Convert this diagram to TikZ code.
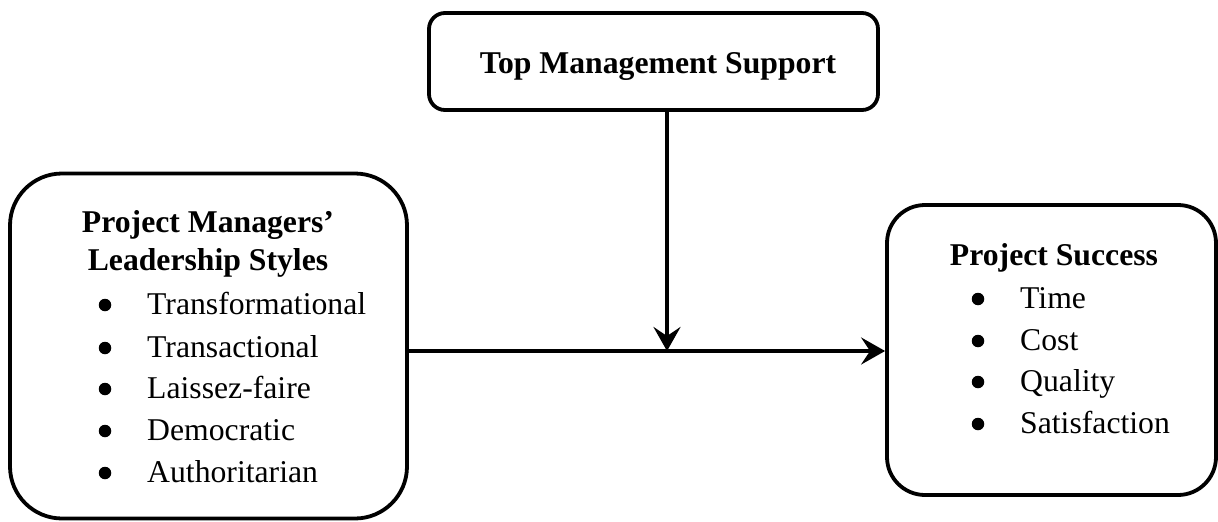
\documentclass[tikz,border=0pt]{standalone}
\usepackage{fontspec}
\setmainfont{Liberation Serif}
\usetikzlibrary{arrows.meta}
\tikzset{
  box/.style={draw, line width=3.8pt, inner sep=0pt},
  txt/.style={inner sep=0pt, anchor=base west, font=\fontsize{31.7}{38}\selectfont},
  ttl/.style={inner sep=0pt, anchor=base, font=\fontsize{31.7}{38}\selectfont\bfseries},
  bul/.style={circle, fill, inner sep=0pt, minimum size=12.5pt},
  conn/.style={line width=3.8pt, -{Stealth[length=24pt, width=27pt, inset=9pt]}}
}
\begin{document}
\begin{tikzpicture}[x=1pt,y=-1pt]
\useasboundingbox (0,0) rectangle (1218,522);
% boxes
\node[box, rounded corners=16pt, minimum width=449pt, minimum height=97pt] (top) at (653.5,61.5) {};
\node[box, rounded corners=52pt, minimum width=397pt, minimum height=345pt] (left) at (208.5,346) {};
\node[box, rounded corners=38pt, minimum width=329pt, minimum height=290pt] (right) at (1051.5,350) {};
% texts
\node[ttl] (ttop) at (658,73) {Top Management Support};
\node[ttl] (tl1) at (208,232) {Project Managers’};
\node[ttl] (tl2) at (208,270) {Leadership Styles};
\node[bul] (bl1) at (105,305) {};
\node[bul] (bl2) at (105,348) {};
\node[bul] (bl3) at (105,389) {};
\node[bul] (bl4) at (105,431) {};
\node[bul] (bl5) at (105,473) {};
\node[txt] (il1) at (147,314) {Transformational};
\node[txt] (il2) at (147,357) {Transactional};
\node[txt] (il3) at (147,398) {Laissez-faire};
\node[txt] (il4) at (147,440) {Democratic};
\node[txt] (il5) at (147,482) {Authoritarian};
\node[ttl] (tr) at (1054,265) {Project Success};
\node[bul] (br1) at (978,299) {};
\node[bul] (br2) at (978,341) {};
\node[bul] (br3) at (978,382) {};
\node[bul] (br4) at (978,424) {};
\node[txt] (ir1) at (1020,308) {Time};
\node[txt] (ir2) at (1020,350) {Cost};
\node[txt] (ir3) at (1020,391) {Quality};
\node[txt] (ir4) at (1020,433) {Satisfaction};
% connectors
\coordinate (meet) at (667,351);
\draw[conn] (left.east |- meet) -- (right.west |- meet);
\draw[conn] (top.south -| meet) -- (meet);
\end{tikzpicture}
\end{document}
